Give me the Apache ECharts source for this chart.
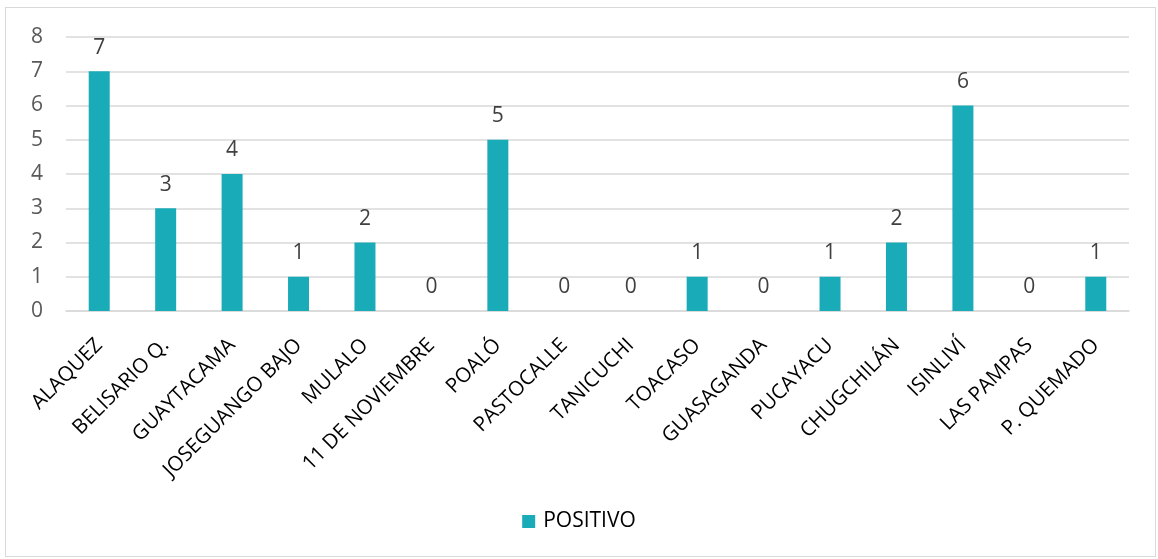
<!DOCTYPE html>
<html><head><meta charset="utf-8">
<script src="https://cdn.jsdelivr.net/npm/echarts@6/dist/echarts.min.js"></script>
<style>html,body{margin:0;padding:0;background:#fff}#c{width:1158px;height:559px}
#frame{position:absolute;left:5px;top:7px;width:1151px;height:550px;border:1.5px solid #d9d9d9;box-sizing:border-box;pointer-events:none}</style>
</head><body><div id="c"></div><div id="frame"></div>
<script>
const categories = ["ALAQUEZ","BELISARIO Q.","GUAYTACAMA","JOSEGUANGO BAJO","MULALO","11 DE NOVIEMBRE","POALÓ","PASTOCALLE","TANICUCHI","TOACASO","GUASAGANDA","PUCAYACU","CHUGCHILÁN","ISINLIVÍ","LAS PAMPAS","P. QUEMADO"];
const positivo = [7,3,4,1,2,0,5,0,0,1,0,1,2,6,0,1];
const seriesName = "POSITIVO";
const font = "'Open Sans', sans-serif";
const chart = echarts.init(document.getElementById('c'));
chart.setOption({
  animation:false,
  grid:{left:66,right:29,top:37,bottom:248,containLabel:false},
  legend:{bottom:22,left:'center',itemWidth:13,itemHeight:13,icon:'rect',itemGap:10,
    textStyle:{fontFamily:font,fontSize:21,color:'#000',padding:[0,0,0,3]},data:[seriesName]},
  xAxis:{type:'category',data:categories,
    axisLine:{lineStyle:{color:'#d9d9d9',width:1.5}},axisTick:{show:false},
    axisLabel:{rotate:45,interval:0,fontFamily:font,fontSize:20.5,color:'#000',margin:31}},
  yAxis:{type:'value',min:0,max:8,interval:1,
    axisLine:{show:false},axisTick:{show:false},
    splitLine:{lineStyle:{color:'#d9d9d9',width:1.5}},
    axisLabel:{fontFamily:font,fontSize:21,color:'#595959',margin:23}},
  series:[{name:seriesName,type:'bar',data:positivo,barWidth:21,
    itemStyle:{color:'#1AABB9'},
    label:{show:true,position:'top',distance:13,fontFamily:font,fontSize:21,color:'#404040'}}]
});
</script></body></html>
